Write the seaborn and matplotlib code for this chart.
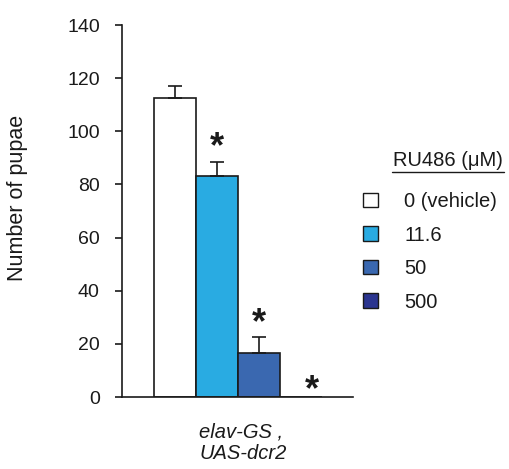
import matplotlib
matplotlib.use("Agg")
import matplotlib.pyplot as plt
import seaborn as sns
from matplotlib.patches import Patch
from matplotlib.lines import Line2D

doses = ["0 (vehicle)", "11.6", "50", "500"]
pupae = [112.6, 83.3, 16.4, 0.0]
sem = [4.4, 5.3, 6.1, 0.0]
significant = [False, True, True, True]
colors = ["#FFFFFF", "#29ABE2", "#3A68B0", "#2B3590"]

sns.set_theme(style="white")
plt.rcParams["font.family"] = ["Liberation Sans", "DejaVu Sans"]

INK = "#1a1a1a"

fig = plt.figure(figsize=(5.09, 4.69), dpi=100)
ax = fig.add_axes([122 / 509, 1 - 397 / 469, 231 / 509, 372 / 469])

sns.barplot(x=doses, y=pupae, hue=doses, palette=colors, order=doses,
            width=1.0, saturation=1, edgecolor=INK, linewidth=1.2, legend=False,
            errorbar=None, ax=ax)

xs = list(range(len(doses)))
ax.errorbar(xs[:3], pupae[:3], yerr=[[0] * 3, sem[:3]], fmt="none",
            ecolor=INK, elinewidth=1.2, capsize=5, capthick=1.2)

# significance stars (the one for 500 sits beside the empty bar)
for x, y, e, s in zip(xs, pupae, sem, significant):
    if not s:
        continue
    if y == 0:
        ax.text(x + 0.27, -4.3, "*", ha="center", va="bottom", clip_on=False,
                fontsize=26, fontweight="bold", color=INK)
    else:
        ax.text(x, y + e - 1.4, "*", ha="center", va="bottom",
                fontsize=26, fontweight="bold", color=INK)

ax.set_xlim(-1.262, 4.238)
ax.set_ylim(0, 140)
ax.set_yticks(range(0, 141, 20))
ax.set_xticks([])
ax.tick_params(axis="y", direction="out", length=5, width=1.2, color=INK,
               labelsize=14, pad=11, left=True, labelcolor=INK)
for side in ["top", "right"]:
    ax.spines[side].set_visible(False)
for side in ["left", "bottom"]:
    ax.spines[side].set_color(INK)
    ax.spines[side].set_linewidth(1.2)

ax.set_ylabel("Number of pupae", fontsize=15.5, color=INK)
ax.yaxis.set_label_coords(18 / 509, 1 - 198 / 469, transform=fig.transFigure)
ax.yaxis.label.set_va("center")
ax.set_xlabel("elav-GS ,\nUAS-dcr2", fontsize=14.5, style="italic", color=INK,
              linespacing=1.15, multialignment="left")
ax.xaxis.set_label_coords(243 / 509, 1 - 463 / 469, transform=fig.transFigure)
ax.xaxis.label.set_va("bottom")

handles = [Patch(facecolor=c, edgecolor=INK, linewidth=1.0) for c in colors]
fig.legend(handles, doses, loc="upper left", bbox_to_anchor=(355 / 509, 1 - 184 / 469),
           frameon=False, fontsize=14.5, handlelength=0.75, handleheight=0.75,
           handletextpad=1.3, labelspacing=0.72, borderaxespad=0, labelcolor=INK)

fig.text(448 / 509, 1 - 161 / 469, "RU486 (μM)", ha="center", va="center",
         fontsize=14.5, color=INK)
fig.add_artist(Line2D([392 / 509, 504 / 509], [1 - 172 / 469] * 2, color=INK,
                      linewidth=1.0, transform=fig.transFigure))

fig.savefig("out.png", dpi=100)
